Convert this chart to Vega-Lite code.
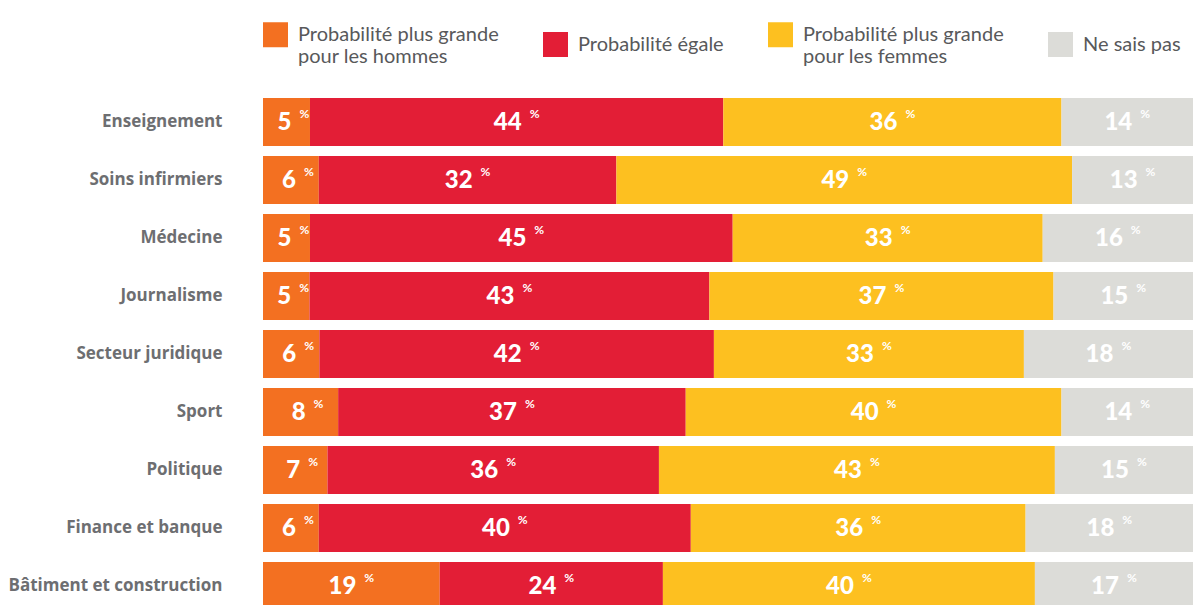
{
  "$schema": "https://vega.github.io/schema/vega-lite/v6.json",
  "autosize": {"type": "none"},
  "padding": {"left": 263, "top": 0, "right": 9, "bottom": 0},
  "width": 930,
  "height": 605,
  "background": "white",
  "config": {"view": {"stroke": null}, "font": "Lato"},
  "data": {"values": [
    {"cat": "Enseignement", "ans": "Probabilité plus grande pour les hommes", "k": 1, "value": 5},
    {"cat": "Enseignement", "ans": "Probabilité égale", "k": 2, "value": 44},
    {"cat": "Enseignement", "ans": "Probabilité plus grande pour les femmes", "k": 3, "value": 36},
    {"cat": "Enseignement", "ans": "Ne sais pas", "k": 4, "value": 14},
    {"cat": "Soins infirmiers", "ans": "Probabilité plus grande pour les hommes", "k": 1, "value": 6},
    {"cat": "Soins infirmiers", "ans": "Probabilité égale", "k": 2, "value": 32},
    {"cat": "Soins infirmiers", "ans": "Probabilité plus grande pour les femmes", "k": 3, "value": 49},
    {"cat": "Soins infirmiers", "ans": "Ne sais pas", "k": 4, "value": 13},
    {"cat": "Médecine", "ans": "Probabilité plus grande pour les hommes", "k": 1, "value": 5},
    {"cat": "Médecine", "ans": "Probabilité égale", "k": 2, "value": 45},
    {"cat": "Médecine", "ans": "Probabilité plus grande pour les femmes", "k": 3, "value": 33},
    {"cat": "Médecine", "ans": "Ne sais pas", "k": 4, "value": 16},
    {"cat": "Journalisme", "ans": "Probabilité plus grande pour les hommes", "k": 1, "value": 5},
    {"cat": "Journalisme", "ans": "Probabilité égale", "k": 2, "value": 43},
    {"cat": "Journalisme", "ans": "Probabilité plus grande pour les femmes", "k": 3, "value": 37},
    {"cat": "Journalisme", "ans": "Ne sais pas", "k": 4, "value": 15},
    {"cat": "Secteur juridique", "ans": "Probabilité plus grande pour les hommes", "k": 1, "value": 6},
    {"cat": "Secteur juridique", "ans": "Probabilité égale", "k": 2, "value": 42},
    {"cat": "Secteur juridique", "ans": "Probabilité plus grande pour les femmes", "k": 3, "value": 33},
    {"cat": "Secteur juridique", "ans": "Ne sais pas", "k": 4, "value": 18},
    {"cat": "Sport", "ans": "Probabilité plus grande pour les hommes", "k": 1, "value": 8},
    {"cat": "Sport", "ans": "Probabilité égale", "k": 2, "value": 37},
    {"cat": "Sport", "ans": "Probabilité plus grande pour les femmes", "k": 3, "value": 40},
    {"cat": "Sport", "ans": "Ne sais pas", "k": 4, "value": 14},
    {"cat": "Politique", "ans": "Probabilité plus grande pour les hommes", "k": 1, "value": 7},
    {"cat": "Politique", "ans": "Probabilité égale", "k": 2, "value": 36},
    {"cat": "Politique", "ans": "Probabilité plus grande pour les femmes", "k": 3, "value": 43},
    {"cat": "Politique", "ans": "Ne sais pas", "k": 4, "value": 15},
    {"cat": "Finance et banque", "ans": "Probabilité plus grande pour les hommes", "k": 1, "value": 6},
    {"cat": "Finance et banque", "ans": "Probabilité égale", "k": 2, "value": 40},
    {"cat": "Finance et banque", "ans": "Probabilité plus grande pour les femmes", "k": 3, "value": 36},
    {"cat": "Finance et banque", "ans": "Ne sais pas", "k": 4, "value": 18},
    {"cat": "Bâtiment et construction", "ans": "Probabilité plus grande pour les hommes", "k": 1, "value": 19},
    {"cat": "Bâtiment et construction", "ans": "Probabilité égale", "k": 2, "value": 24},
    {"cat": "Bâtiment et construction", "ans": "Probabilité plus grande pour les femmes", "k": 3, "value": 40},
    {"cat": "Bâtiment et construction", "ans": "Ne sais pas", "k": 4, "value": 17}
  ]},
  "transform": [
    {"stack": "value", "groupby": ["cat"], "sort": [{"field": "k", "order": "ascending"}], "offset": "normalize", "as": ["x0", "x1"]},
    {"calculate": "(datum.x0 + datum.x1) / 2", "as": "mid"}
  ],
  "encoding": {
    "y": {
      "field": "cat", "type": "nominal",
      "scale": {
        "domain": ["Enseignement", "Soins infirmiers", "Médecine", "Journalisme", "Secteur juridique", "Sport", "Politique", "Finance et banque", "Bâtiment et construction"],
        "range": [93, 615], "paddingInner": 0.17, "paddingOuter": 0.085
      },
      "axis": {
        "title": null, "domain": false, "ticks": false,
        "labelFontSize": 17, "labelFontWeight": "bold", "labelColor": "#6d6e71",
        "labelPadding": 41, "labelFont": "Open Sans", "labelLimit": 300
      }
    }
  },
  "layer": [
    {
      "mark": {"type": "bar", "clip": true},
      "encoding": {
        "x": {"field": "x0", "type": "quantitative", "scale": {"domain": [0, 1], "nice": false, "zero": false}, "axis": null},
        "x2": {"field": "x1"},
        "color": {
          "field": "ans", "type": "nominal",
          "scale": {
            "domain": ["Probabilité plus grande pour les hommes", "Probabilité égale", "Probabilité plus grande pour les femmes", "Ne sais pas"],
            "range": ["#f37021", "#e31e36", "#fdc020", "#dcdcd8"]
          },
          "legend": {
            "title": null, "orient": "none", "legendX": 0, "legendY": 22,
            "direction": "horizontal", "columns": 4, "columnPadding": 44,
            "symbolType": "square", "symbolSize": 625, "symbolStrokeWidth": 0, "symbolOpacity": 1,
            "labelFont": "Lato", "labelFontSize": 20, "labelColor": "#58595b", "labelOffset": 10,
            "labelLimit": 400,
            "labelExpr": "datum.label == 'Probabilité plus grande pour les hommes' ? ['Probabilité plus grande', 'pour les hommes'] : datum.label == 'Probabilité plus grande pour les femmes' ? ['Probabilité plus grande', 'pour les femmes'] : datum.label"
          }
        }
      }
    },
    {
      "mark": {"type": "text", "align": "right", "baseline": "middle", "dx": 5, "dy": 1, "color": "white", "fontSize": 24, "fontWeight": 900, "font": "Lato"},
      "encoding": {
        "x": {"field": "mid", "type": "quantitative"},
        "text": {"field": "value", "type": "quantitative"}
      }
    },
    {
      "mark": {"type": "text", "align": "left", "baseline": "middle", "dx": 13, "dy": -8, "color": "white", "fontSize": 12, "fontWeight": "bold", "font": "Lato", "text": "%"},
      "encoding": {
        "x": {"field": "mid", "type": "quantitative"}
      }
    }
  ]
}
